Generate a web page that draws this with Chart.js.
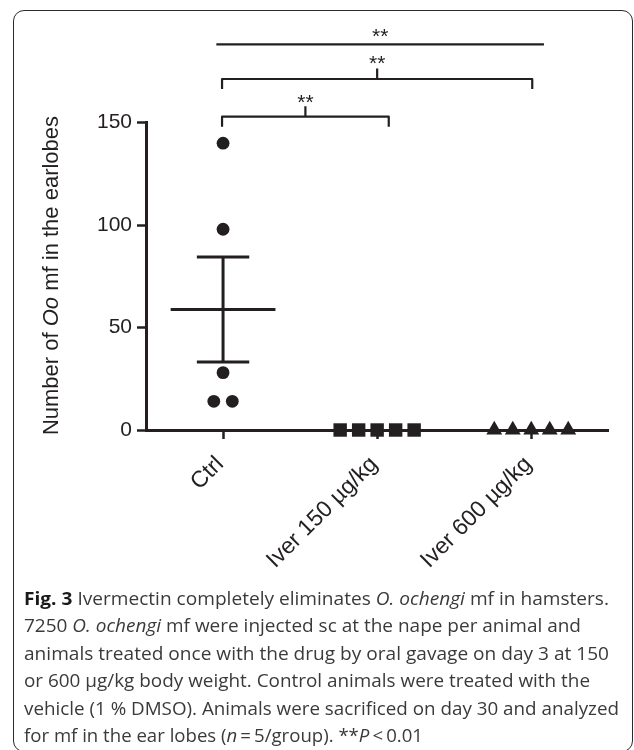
<!DOCTYPE html>
<html>
<head>
<meta charset="utf-8">
<script src="https://cdn.jsdelivr.net/npm/chart.js@4"></script>
<style>
  html, body { margin: 0; padding: 0; background: #fff; width: 634px; height: 750px; overflow: hidden; }
  #frame { position: absolute; left: 13px; top: 10px; width: 620px; height: 742px; border: 1.6px solid #2b2b2b; border-radius: 11px; box-sizing: border-box; }
  #wrap { position: absolute; left: 0; top: 0; width: 634px; height: 590px; }
  #caption { position: absolute; left: 24px; top: 584.5px; font-family: 'Open Sans', sans-serif; font-size: 17.3px; line-height: 27.5px; color: #3a3a3a; }
  #caption .ln { display: block; white-space: nowrap; width: max-content; transform-origin: 0 0; }
  #caption b { color: #1a1a1a; }
</style>
</head>
<body>
<div id="frame"></div>
<div id="wrap"><canvas id="c"></canvas></div>
<div id="caption">
  <span class="ln" data-w="585"><b>Fig. 3</b> Ivermectin completely eliminates <i>O. ochengi</i> mf in hamsters.</span>
  <span class="ln" data-w="557">7250 <i>O. ochengi</i> mf were injected sc at the nape per animal and</span>
  <span class="ln" data-w="585">animals treated once with the drug by oral gavage on day 3 at 150</span>
  <span class="ln" data-w="566">or 600 µg/kg body weight. Control animals were treated with the</span>
  <span class="ln" data-w="595">vehicle (1 % DMSO). Animals were sacrificed on day 30 and analyzed</span>
  <span class="ln" data-w="399">for mf in the ear lobes (<i>n</i>&#8201;=&#8201;5/group). **<i>P</i>&#8201;&lt;&#8201;0.01</span>
</div>
<script>
// ---- data ----
const categories = ['Ctrl', 'Iver 150 µg/kg', 'Iver 600 µg/kg'];
const ctrlValues = [140, 98, 28, 14, 14];
const iver150Values = [0, 0, 0, 0, 0];
const iver600Values = [0, 0, 0, 0, 0];
const yTicks = [0, 50, 100, 150];
const yTitleParts = [['Number of ', false], ['Oo', true], [' mf in the earlobes', false]];
const comparisonLabels = ['**', '**', '**'];

// ---- layout / style ----
const INK = '#231f20';
const FONT = "'Liberation Sans', Arial, Helvetica, sans-serif";
const ctrlJitter = [0, 0, 0, -0.06, 0.06];
const groupJitter = [-0.24, -0.12, 0, 0.12, 0.24];

function points(vals, idx, jit) { return vals.map((v, i) => ({ x: idx + jit[i], y: v })); }

const n = ctrlValues.length;
const mean = ctrlValues.reduce((a, b) => a + b, 0) / n;
const sd = Math.sqrt(ctrlValues.reduce((a, v) => a + (v - mean) * (v - mean), 0) / (n - 1));
const sem = sd / Math.sqrt(n);

const lineDs = (data, w) => ({
  type: 'scatter', data, showLine: true, borderColor: INK, borderWidth: w,
  pointRadius: 0, borderCapStyle: 'butt', clip: false
});

const annotPlugin = {
  id: 'annot',
  afterDraw(chart) {
    const { ctx, chartArea } = chart;
    const xs = chart.scales.x;
    const top = chartArea.top;
    ctx.save();
    ctx.strokeStyle = INK; ctx.fillStyle = INK;
    ctx.lineWidth = 2.2; ctx.lineJoin = 'round'; ctx.lineCap = 'butt';
    // rows: [fromIdx, toIdx, padL, padR, yOffset, kind, starOffset]
    const rows = [
      [0, 1, -1, 11.6, -6, 'bracket', -23.7],
      [0, 2, -1, 1, -43.7, 'bracket', -62.7],
      [0, 2, -6.7, 12.7, -78.4, 'line', -89.7]
    ];
    ctx.font = '21px ' + FONT;
    ctx.textAlign = 'center'; ctx.textBaseline = 'alphabetic';
    const m = ctx.measureText('**');
    const starShift = (m.actualBoundingBoxAscent - m.actualBoundingBoxDescent) / 2;
    rows.forEach((r, i) => {
      const x1 = xs.getPixelForValue(r[0]) + r[2];
      const x2 = xs.getPixelForValue(r[1]) + r[3];
      const y = top + r[4];
      const mid = (x1 + x2) / 2;
      ctx.beginPath();
      if (r[5] === 'bracket') {
        ctx.moveTo(x1, y + 10); ctx.lineTo(x1, y); ctx.lineTo(x2, y); ctx.lineTo(x2, y + 10);
        ctx.moveTo(mid, y); ctx.lineTo(mid, y - 10.5);
      } else {
        ctx.moveTo(x1, y); ctx.lineTo(x2, y);
      }
      ctx.stroke();
      ctx.fillText(comparisonLabels[i], mid, top + r[6] + starShift);
    });
    // y axis title with italic part
    const fs = 22;
    let W = 0;
    const widths = yTitleParts.map(([t, it]) => {
      ctx.font = (it ? 'italic ' : '') + fs + 'px ' + FONT;
      const w = ctx.measureText(t).width; W += w; return w;
    });
    ctx.translate(57.5, 275.5);
    ctx.rotate(-Math.PI / 2);
    ctx.textAlign = 'left'; ctx.textBaseline = 'alphabetic';
    let x = -W / 2;
    yTitleParts.forEach(([t, it], i) => {
      ctx.font = (it ? 'italic ' : '') + fs + 'px ' + FONT;
      ctx.fillText(t, x, 0);
      x += widths[i];
    });
    ctx.restore();
  }
};

new Chart(document.getElementById('c'), {
  type: 'scatter',
  data: {
    datasets: [
      { data: points(ctrlValues, 0, ctrlJitter), pointStyle: 'circle', pointRadius: 6.4, pointBackgroundColor: INK, pointBorderWidth: 0, clip: false },
      { data: points(iver150Values, 1, groupJitter), pointStyle: 'rect', pointRadius: 9.5, pointBackgroundColor: INK, pointBorderWidth: 0, clip: false },
      { data: points(iver600Values, 2, groupJitter), pointStyle: 'triangle', pointRadius: 9.2, pointBackgroundColor: INK, pointBorderWidth: 0, clip: false },
      lineDs([{ x: -0.34, y: mean }, { x: 0.34, y: mean }], 3),
      lineDs([{ x: -0.17, y: mean + sem }, { x: 0.17, y: mean + sem }], 3),
      lineDs([{ x: -0.17, y: mean - sem }, { x: 0.17, y: mean - sem }], 3),
      lineDs([{ x: 0, y: mean - sem }, { x: 0, y: mean + sem }], 3)
    ]
  },
  options: {
    responsive: true,
    maintainAspectRatio: false,
    animation: false,
    devicePixelRatio: 1,
    layout: { padding: { left: 0, top: 122.7, right: 25.7, bottom: 0 } },
    plugins: { legend: { display: false }, tooltip: { enabled: false } },
    scales: {
      x: {
        type: 'linear', min: -0.5, max: 2.5,
        afterBuildTicks: s => { s.ticks = categories.map((c, i) => ({ value: i })); },
        afterFit: s => { s.paddingLeft = 0; s.paddingRight = 0; s.height = 160; },
        ticks: {
          callback: v => categories[v], autoSkip: false, minRotation: 45, maxRotation: 45,
          labelOffset: -3, padding: 12, color: INK, font: { family: FONT, size: 23 }
        },
        grid: { drawOnChartArea: false, drawTicks: true, tickLength: 9, tickWidth: 2.5, tickColor: INK, color: INK },
        border: { display: true, color: INK, width: 3 }
      },
      y: {
        min: 0, max: 150,
        afterBuildTicks: s => { s.ticks = yTicks.map(v => ({ value: v })); },
        afterFit: s => { s.width = 146; s.paddingTop = 0; s.paddingBottom = 0; },
        ticks: { padding: 5, color: INK, font: { family: FONT, size: 21 } },
        grid: { drawOnChartArea: false, drawTicks: true, tickLength: 9, tickWidth: 2.5, tickColor: INK, color: INK },
        border: { display: true, color: INK, width: 3 }
      }
    }
  },
  plugins: [annotPlugin]
});

function fitCaption() {
  document.querySelectorAll('#caption .ln').forEach(el => {
    el.style.transform = 'none';
    const w = el.getBoundingClientRect().width;
    const target = parseFloat(el.dataset.w);
    if (w > 0) el.style.transform = 'scaleX(' + (target / w) + ')';
  });
}
fitCaption();
if (document.fonts && document.fonts.ready) document.fonts.ready.then(fitCaption);
</script>
</body>
</html>
